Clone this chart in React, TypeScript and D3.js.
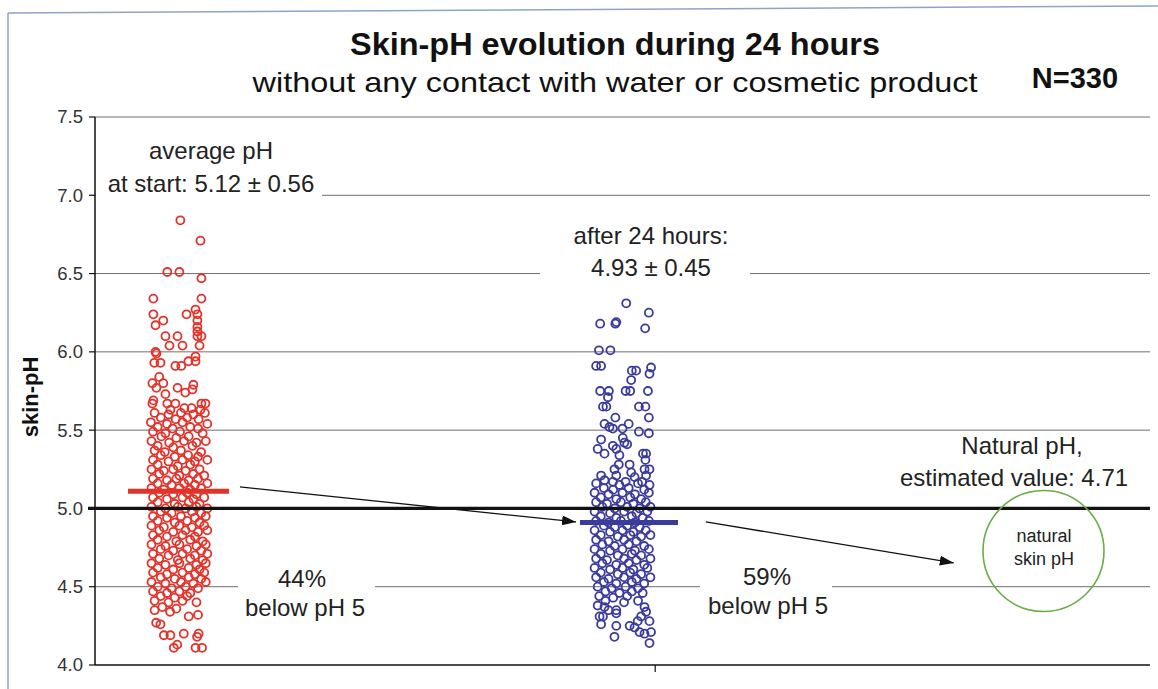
import React from "react";
import * as d3 from "d3";

// ---------- DATA ----------
const yTicks = [4.0, 4.5, 5.0, 5.5, 6.0, 6.5, 7.0, 7.5];
const groups = ["start", "after 24 hours"];
const groupCenters = [8, 50];
const means = [5.11, 4.91];
const meanBarExtent: [number, number][] = [
  [3.13, 12.7],
  [45.97, 55.26],
];
const naturalPH = 4.71;

// [jitter (-1..1), pH]
const startPoints: [number, number][] = [
  [0.03, 6.84], [0.68, 6.71], [-0.39, 6.51], [0.0, 6.51], [0.71, 6.47], [-0.84, 6.34], [0.71, 6.34],
  [0.52, 6.27], [-0.84, 6.24], [0.23, 6.24], [0.58, 6.24], [-0.52, 6.2], [0.58, 6.2], [-0.77, 6.17],
  [0.58, 6.16], [0.58, 6.13], [-0.45, 6.1], [-0.06, 6.1], [0.58, 6.1], [0.71, 6.1], [-0.32, 6.04],
  [0.1, 6.04], [0.65, 6.04], [-0.77, 6.0], [-0.74, 5.99], [0.52, 5.97], [-0.81, 5.93], [-0.61, 5.93],
  [0.29, 5.94], [0.52, 5.94], [-0.13, 5.91], [0.06, 5.91], [-0.65, 5.84], [-0.87, 5.8], [-0.52, 5.8],
  [0.45, 5.79], [-0.74, 5.77], [-0.06, 5.77], [0.42, 5.76], [0.19, 5.74], [-0.45, 5.73], [-0.84, 5.69],
  [-0.87, 5.67], [-0.39, 5.67], [-0.13, 5.67], [0.71, 5.67], [0.84, 5.67], [-0.29, 5.63], [0.16, 5.64],
  [0.39, 5.64], [0.68, 5.63],
  [-0.8, 5.61], [-0.35, 5.6], [0.05, 5.61], [0.45, 5.6], [0.82, 5.61],
  [-0.6, 5.58], [-0.12, 5.57], [0.25, 5.58], [0.62, 5.57],
  [-0.92, 5.55], [-0.4, 5.54], [0.1, 5.55], [0.9, 5.54],
  [-0.7, 5.52], [-0.22, 5.51], [0.35, 5.52], [0.6, 5.51],
  [-0.85, 5.49], [-0.45, 5.48], [0.02, 5.49], [0.75, 5.48],
  [-0.58, 5.46], [-0.1, 5.45], [0.3, 5.46],
  [-0.9, 5.43], [-0.33, 5.42], [0.15, 5.43], [0.55, 5.42], [0.85, 5.43],
  [-0.7, 5.4], [-0.2, 5.39], [0.42, 5.4],
  [-0.8, 5.37], [-0.47, 5.36], [0.05, 5.37], [0.7, 5.36],
  [-0.6, 5.34], [-0.15, 5.33], [0.28, 5.34], [0.6, 5.33],
  [-0.85, 5.31], [-0.35, 5.3], [0.1, 5.31], [0.5, 5.3], [0.9, 5.31],
  [-0.7, 5.28], [-0.05, 5.27], [0.35, 5.28],
  [-0.9, 5.25], [-0.5, 5.24], [-0.2, 5.25], [0.2, 5.24], [0.65, 5.25],
  [-0.65, 5.22], [0.0, 5.21], [0.45, 5.22], [0.8, 5.21],
  [-0.85, 5.19], [-0.4, 5.18], [-0.1, 5.19], [0.3, 5.18], [0.6, 5.19],
  [-0.7, 5.16], [-0.25, 5.15], [0.15, 5.16], [0.5, 5.15], [0.9, 5.16],
  [-0.9, 5.13], [-0.5, 5.12], [0.0, 5.13], [0.35, 5.12], [0.7, 5.13],
  [-0.65, 5.1], [-0.2, 5.09], [0.25, 5.1], [0.55, 5.09],
  [-0.85, 5.07], [-0.4, 5.06], [0.1, 5.07], [0.45, 5.06], [0.8, 5.07],
  [-0.7, 5.04], [-0.15, 5.03], [0.3, 5.04], [0.65, 5.03],
  [-0.9, 5.01], [-0.45, 5.0], [-0.05, 5.01], [0.2, 5.0], [0.55, 5.01], [0.9, 5.0],
  [-0.6, 4.98], [-0.25, 4.97], [0.4, 4.98], [0.7, 4.97],
  [-0.85, 4.95], [-0.4, 4.94], [0.05, 4.95], [0.5, 4.94], [0.85, 4.95],
  [-0.7, 4.92], [-0.15, 4.91], [0.25, 4.92], [0.65, 4.91],
  [-0.9, 4.89], [-0.5, 4.88], [0.0, 4.89], [0.4, 4.88], [0.8, 4.89],
  [-0.65, 4.86], [-0.2, 4.85], [0.2, 4.86], [0.6, 4.85], [0.9, 4.86],
  [-0.85, 4.83], [-0.4, 4.82], [0.1, 4.83], [0.5, 4.82],
  [-0.7, 4.8], [-0.1, 4.79], [0.35, 4.8], [0.75, 4.79],
  [-0.9, 4.77], [-0.45, 4.76], [0.0, 4.77], [0.55, 4.76], [0.85, 4.77],
  [-0.6, 4.74], [-0.2, 4.73], [0.25, 4.74], [0.7, 4.73],
  [-0.85, 4.71], [-0.35, 4.7], [0.1, 4.71], [0.5, 4.7], [0.9, 4.71],
  [-0.65, 4.68], [-0.05, 4.67], [0.35, 4.68], [0.75, 4.67],
  [-0.9, 4.65], [-0.45, 4.64], [0.0, 4.65], [0.55, 4.64], [0.85, 4.65],
  [-0.7, 4.62], [-0.2, 4.61], [0.3, 4.62], [0.65, 4.61],
  [-0.85, 4.59], [-0.4, 4.58], [0.1, 4.59], [0.5, 4.58], [0.8, 4.59],
  [-0.6, 4.56], [-0.15, 4.55], [0.3, 4.56], [0.7, 4.55],
  [-0.9, 4.53], [-0.45, 4.52], [0.05, 4.53], [0.45, 4.52], [0.85, 4.53],
  [-0.7, 4.5], [-0.25, 4.49], [0.2, 4.5], [0.6, 4.49],
  [-0.85, 4.47], [-0.4, 4.46], [0.0, 4.47], [0.35, 4.46],
  [-0.6, 4.44], [-0.15, 4.43], [0.25, 4.44],
  [-0.8, 4.41], [-0.35, 4.4], [0.1, 4.41],
  [0.55, 4.4], [-0.55, 4.37], [-0.1, 4.36], [-0.8, 4.35], [-0.3, 4.34], [0.6, 4.32], [0.3, 4.31],
  [-0.75, 4.27], [-0.61, 4.26], [-0.5, 4.19], [-0.29, 4.19], [0.14, 4.2], [0.62, 4.2], [0.57, 4.18],
  [-0.07, 4.13], [-0.18, 4.11], [0.52, 4.11], [0.73, 4.11],
];

const afterPoints: [number, number][] = [
  [0.12, 6.31], [0.85, 6.25], [-0.72, 6.18], [-0.23, 6.18], [-0.2, 6.19], [0.73, 6.15], [-0.76, 6.01],
  [-0.39, 6.01], [-0.85, 5.91], [-0.69, 5.91], [0.3, 5.88], [0.44, 5.88], [0.92, 5.9], [0.87, 5.86],
  [0.28, 5.82], [-0.72, 5.75], [-0.44, 5.75], [-0.47, 5.71], [0.1, 5.75], [0.25, 5.75], [0.82, 5.75],
  [-0.63, 5.65], [-0.52, 5.65], [0.53, 5.65], [0.74, 5.65], [0.85, 5.58], [-0.23, 5.58], [-0.58, 5.54],
  [-0.42, 5.52], [-0.31, 5.51], [0.2, 5.54], [0.0, 5.51], [0.53, 5.49], [0.85, 5.48], [-0.69, 5.44],
  [0.01, 5.45], [0.06, 5.42], [-0.31, 5.4], [-0.2, 5.38], [-0.8, 5.38], [-0.58, 5.35], [0.15, 5.41],
  [-0.1, 5.34], [0.66, 5.35], [0.76, 5.35], [0.74, 5.31], [-0.69, 5.21], [-0.58, 5.18], [-0.26, 5.25],
  [-0.12, 5.28], [-0.2, 5.21], [0.23, 5.28], [0.28, 5.23], [0.39, 5.2], [0.71, 5.25], [0.87, 5.25],
  [0.76, 5.21], [-0.31, 5.17], [0.1, 5.17], [0.63, 5.17], [0.87, 5.15],
  [-0.85, 5.16], [-0.1, 5.15], [0.5, 5.16],
  [-0.6, 5.13], [-0.3, 5.12], [0.2, 5.13], [0.7, 5.12],
  [-0.9, 5.1], [-0.45, 5.09], [0.0, 5.1], [0.4, 5.09], [0.85, 5.1],
  [-0.7, 5.07], [-0.2, 5.06], [0.25, 5.07], [0.6, 5.06],
  [-0.85, 5.04], [-0.5, 5.03], [-0.05, 5.04], [0.35, 5.03], [0.75, 5.04],
  [-0.65, 5.01], [-0.25, 5.0], [0.15, 5.01], [0.55, 5.0], [0.9, 5.01],
  [-0.9, 4.98], [-0.4, 4.97], [0.05, 4.98], [0.45, 4.97], [0.8, 4.98],
  [-0.7, 4.95], [-0.2, 4.94], [0.3, 4.95], [0.65, 4.94],
  [-0.85, 4.92], [-0.45, 4.91], [-0.05, 4.92], [0.4, 4.91], [0.85, 4.92],
  [-0.6, 4.89], [-0.25, 4.88], [0.15, 4.89], [0.55, 4.88],
  [-0.9, 4.86], [-0.4, 4.85], [0.0, 4.86], [0.35, 4.85], [0.75, 4.86],
  [-0.7, 4.83], [-0.15, 4.82], [0.25, 4.83], [0.6, 4.82], [0.9, 4.83],
  [-0.85, 4.8], [-0.45, 4.79], [0.05, 4.8], [0.45, 4.79],
  [-0.65, 4.77], [-0.25, 4.76], [0.2, 4.77], [0.7, 4.76],
  [-0.9, 4.74], [-0.4, 4.73], [0.0, 4.74], [0.4, 4.73], [0.85, 4.74],
  [-0.7, 4.71], [-0.15, 4.7], [0.3, 4.71], [0.6, 4.7],
  [-0.85, 4.68], [-0.5, 4.67], [0.05, 4.68], [0.45, 4.67], [0.9, 4.68],
  [-0.65, 4.65], [-0.2, 4.64], [0.2, 4.65], [0.7, 4.64],
  [-0.9, 4.62], [-0.4, 4.61], [0.0, 4.62], [0.35, 4.61], [0.8, 4.62],
  [-0.7, 4.59], [-0.15, 4.58], [0.25, 4.59], [0.6, 4.58],
  [-0.85, 4.56], [-0.45, 4.55], [0.05, 4.56], [0.45, 4.55], [0.9, 4.56],
  [-0.6, 4.53], [-0.2, 4.52], [0.3, 4.53], [0.7, 4.52],
  [-0.8, 4.5], [-0.35, 4.49], [0.1, 4.5], [0.5, 4.49],
  [-0.55, 4.47], [-0.1, 4.46], [0.3, 4.47], [0.65, 4.46],
  [-0.75, 4.44], [-0.3, 4.43], [0.15, 4.44],
  [-0.55, 4.41], [0.05, 4.4], [0.5, 4.41],
  [-0.8, 4.38], [-0.58, 4.37], [-0.45, 4.35], [-0.2, 4.35], [-0.74, 4.31], [-0.63, 4.31], [-0.2, 4.33],
  [0.71, 4.37], [0.76, 4.34], [0.6, 4.31], [0.49, 4.28], [-0.69, 4.26], [-0.2, 4.25], [0.23, 4.25],
  [0.39, 4.24], [0.87, 4.28], [0.92, 4.21], [0.55, 4.21], [0.71, 4.2], [-0.26, 4.18], [0.87, 4.14],
];

// ---------- LAYOUT ----------
const W = 1158;
const H = 689;
const JITTER = 2.94;
const RED = "#e2332b";
const BLUE = "#3b3b9c";
const FONT = "'Liberation Sans', Arial, sans-serif";

export default function App() {
  const x = d3.scaleLinear().domain([0, 100]).range([95, 1150]);
  const y = d3.scaleLinear().domain([4, 7.5]).range([665, 117]);
  const series = [startPoints, afterPoints];
  const colors = [RED, BLUE];

  const arrowLine = d3.line<[number, number]>().x((d) => x(d[0])).y((d) => y(d[1]));
  const arrows: [number, number][][] = [
    [[13.74, 5.137], [45.6, 4.914]],
    [[57.9, 4.914], [81.4, 4.652]],
  ];

  return (
    <svg
      width={W}
      height={H}
      style={{ position: "absolute", left: 0, top: 0, background: "#fff" }}
      fontFamily={FONT}
    >
      <defs>
        <marker
          id="ah"
          viewBox="0 0 14 10"
          refX={14}
          refY={5}
          markerWidth={14}
          markerHeight={10}
          markerUnits="userSpaceOnUse"
          orient="auto"
        >
          <path d="M0,0 L14,5 L0,10 z" fill="#111" />
        </marker>
      </defs>

      {/* page frame */}
      <line x1={8} y1={13} x2={W} y2={6} stroke="#8ea3c9" strokeWidth={1.5} />
      <line x1={8} y1={13} x2={8} y2={H} stroke="#8ea3c9" strokeWidth={1.5} />

      {/* titles */}
      <text x={615} y={55} textAnchor="middle" fontSize={31} fontWeight="bold" fill="#111" textLength={530} lengthAdjust="spacingAndGlyphs">
        Skin-pH evolution during 24 hours
      </text>
      <text x={615} y={92} textAnchor="middle" fontSize={28} fill="#111" textLength={725} lengthAdjust="spacingAndGlyphs">
        without any contact with water or cosmetic product
      </text>
      <text x={1075} y={88} textAnchor="middle" fontSize={29} fontWeight="bold" fill="#111">
        N=330
      </text>

      {/* gridlines */}
      {yTicks
        .filter((t) => t !== 4.0 && t !== 5.0)
        .map((t) => (
          <line key={t} x1={x(0)} x2={x(100)} y1={y(t)} y2={y(t)} stroke="#6e6e6e" strokeWidth={1} />
        ))}

      {/* label knockouts */}
      <rect x={96} y={184} width={226} height={22} fill="#fff" />
      <rect x={540} y={262} width={210} height={22} fill="#fff" />
      <rect x={238} y={578} width={137} height={20} fill="#fff" />
      <rect x={700} y={578} width={132} height={20} fill="#fff" />

      {/* y axis */}
      <line x1={x(0)} x2={x(0)} y1={y(7.5)} y2={y(4)} stroke="#111" strokeWidth={1.5} />
      {yTicks.map((t) => (
        <g key={t}>
          <line x1={x(0) - 6} x2={x(0)} y1={y(t)} y2={y(t)} stroke="#111" strokeWidth={1.2} />
          <text x={x(0) - 12} y={y(t)} dy="0.35em" textAnchor="end" fontSize={18.5} fill="#333">
            {t.toFixed(1)}
          </text>
        </g>
      ))}
      <text
        transform={`translate(38,${(y(4) + y(7.5)) / 2 + 6}) rotate(-90)`}
        textAnchor="middle"
        fontSize={22}
        fontWeight="bold"
        fill="#111"
      >
        skin-pH
      </text>

      {/* x axis */}
      <line x1={x(0)} x2={x(100)} y1={y(4)} y2={y(4)} stroke="#111" strokeWidth={1.5} />
      <line x1={x(53.1)} x2={x(53.1)} y1={y(4)} y2={y(4) + 7} stroke="#111" strokeWidth={1.2} />

      {/* points */}
      {series.map((pts, gi) => (
        <g key={groups[gi]} fill="none" stroke={colors[gi]} strokeWidth={1.8}>
          {pts.map((p, i) => (
            <circle key={i} cx={x(groupCenters[gi] + p[0] * JITTER)} cy={y(p[1])} r={4} />
          ))}
        </g>
      ))}

      {/* pH 5 reference line */}
      <line x1={x(0) - 7} x2={x(100)} y1={y(5)} y2={y(5)} stroke="#111" strokeWidth={3.2} />

      {/* mean bars */}
      {means.map((m, gi) => (
        <line
          key={gi}
          x1={x(meanBarExtent[gi][0])}
          x2={x(meanBarExtent[gi][1])}
          y1={y(m)}
          y2={y(m)}
          stroke={colors[gi]}
          strokeWidth={5}
        />
      ))}

      {/* arrows */}
      {arrows.map((a, i) => (
        <path key={i} d={arrowLine(a) || ""} stroke="#111" strokeWidth={1.3} fill="none" markerEnd="url(#ah)" />
      ))}

      {/* natural pH circle */}
      <circle cx={1043.5} cy={551} r={60.5} fill="none" stroke="#6aac45" strokeWidth={1.6} />
      <text x={1044} y={542} textAnchor="middle" fontSize={18} fill="#222">natural</text>
      <text x={1044} y={565} textAnchor="middle" fontSize={18} fill="#222">skin pH</text>

      {/* annotations */}
      <g fontSize={24} fill="#222" textAnchor="middle">
        <text x={211} y={159}>average pH</text>
        <text x={211} y={192}>at start: 5.12 ± 0.56</text>
        <text x={651} y={244}>after 24 hours:</text>
        <text x={651} y={276}>4.93 ± 0.45</text>
        <text x={1022} y={454}>Natural pH,</text>
        <text x={1014} y={486}>estimated value: {naturalPH}</text>
        <text x={302} y={587}>44%</text>
        <text x={305} y={616}>below pH 5</text>
        <text x={767} y={585}>59%</text>
        <text x={768} y={614}>below pH 5</text>
      </g>
    </svg>
  );
}
